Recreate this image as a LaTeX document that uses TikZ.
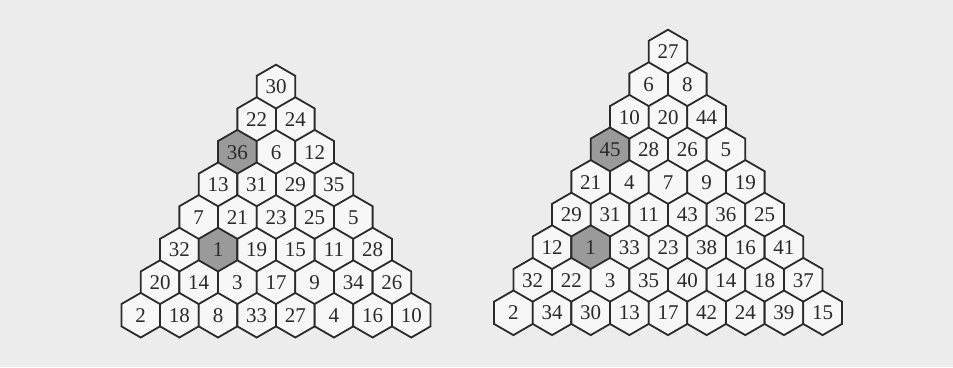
\documentclass[tikz,border=0pt]{standalone}
\usepackage{fontspec}
\setmainfont{Liberation Serif}
\usetikzlibrary{shapes.geometric}
\definecolor{fundo}{HTML}{ECECEC}
\definecolor{celula}{HTML}{F7F7F7}
\definecolor{marcada}{HTML}{9A9A9A}
\definecolor{borda}{HTML}{2A2A2A}

\begin{document}
\begin{tikzpicture}[
  x = 1pt, y = -1pt,
  hexcell/.style = {regular polygon, regular polygon sides=6,
    shape border rotate=30, minimum size=44.6pt, inner sep=0pt,
    outer sep=0pt, draw=borda, line width=1.8pt, fill=celula,
    text=borda, font=\fontsize{21}{21}\selectfont},
  % casas marcadas (por posicao)
  mark L-2-0/.style = {fill=marcada},
  mark L-5-1/.style = {fill=marcada},
  mark R-3-0/.style = {fill=marcada},
  mark R-6-1/.style = {fill=marcada},
]
\def\dx{38.65}
\def\dy{32.6}

\fill[fundo] (0,0) rectangle (953,367);

% triangulo da esquerda (8 linhas)
\foreach \row [count=\r from 0] in {{30},{22,24},{36,6,12},{13,31,29,35},
    {7,21,23,25,5},{32,1,19,15,11,28},{20,14,3,17,9,34,26},
    {2,18,8,33,27,4,16,10}}
  \foreach \v [count=\k from 0] in \row
    \node[hexcell, mark L-\r-\k/.try] (L-\r-\k)
      at ({276+(\k-\r/2)*\dx}, {87+\r*\dy}) {\v};

% triangulo da direita (9 linhas)
\foreach \row [count=\r from 0] in {{27},{6,8},{10,20,44},{45,28,26,5},
    {21,4,7,9,19},{29,31,11,43,36,25},{12,1,33,23,38,16,41},
    {32,22,3,35,40,14,18,37},{2,34,30,13,17,42,24,39,15}}
  \foreach \v [count=\k from 0] in \row
    \node[hexcell, mark R-\r-\k/.try] (R-\r-\k)
      at ({668+(\k-\r/2)*\dx}, {52+\r*\dy}) {\v};
\end{tikzpicture}
\end{document}
